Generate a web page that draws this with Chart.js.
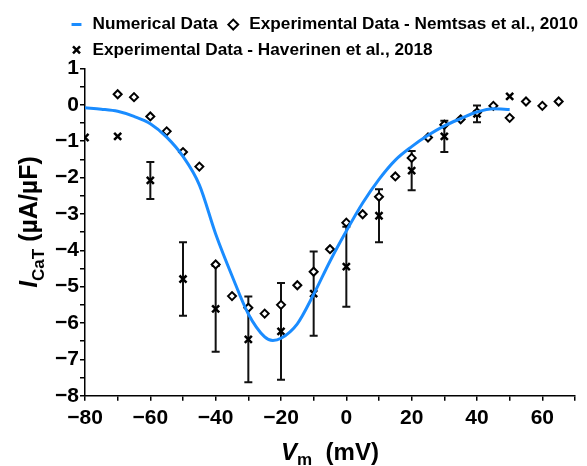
<!DOCTYPE html>
<html>
<head>
<meta charset="utf-8">
<script src="https://cdn.jsdelivr.net/npm/chart.js@4"></script>
<style>
  html, body { margin: 0; padding: 0; background: #fff; }
  #wrap { width: 587px; height: 466px; }
</style>
</head>
<body>
<div id="wrap"><canvas id="ical-chart"></canvas></div>
<script>
// Numerical I-V curve (mV, uA/uF)
const numV = [-80, -75, -70, -65, -60, -55, -50, -45, -40, -35, -30, -25, -22.5, -20, -15, -10, -5, 0, 5, 10, 15, 20, 25, 30, 35, 40, 45, 50];
const numI = [-0.08, -0.12, -0.18, -0.32, -0.52, -0.89, -1.42, -2.2, -3.55, -4.7, -5.75, -6.38, -6.48, -6.42, -6.02, -5.21, -4.3, -3.47, -2.7, -2.05, -1.52, -1.15, -0.84, -0.58, -0.38, -0.2, -0.11, -0.13];

// Nemtsas et al., 2010
const nemV = [-70, -65, -60, -55, -50, -45, -40, -35, -30, -25, -20, -15, -10, -5, 0, 5, 10, 15, 20, 25, 30, 35, 40, 45, 50, 55, 60, 65];
const nemI = [0.29, 0.21, -0.32, -0.73, -1.30, -1.70, -4.39, -5.26, -5.58, -5.74, -5.50, -4.96, -4.59, -3.97, -3.24, -3.01, -2.53, -1.97, -1.46, -0.90, -0.55, -0.40, -0.21, -0.03, -0.36, 0.09, -0.03, 0.09];

// Haverinen et al., 2018 (mean +/- error)
const havV = [-80, -70, -60, -50, -40, -30, -20, -10, 0, 10, 20, 30, 40, 50];
const havI = [-0.90, -0.87, -2.08, -4.79, -5.61, -6.45, -6.23, -5.19, -4.45, -3.05, -1.81, -0.87, -0.25, 0.23];
const havErr = [0, 0, 0.51, 1.01, 1.18, 1.18, 1.33, 1.16, 1.1, 0.73, 0.54, 0.43, 0.23, 0];

const labels = ['Numerical Data', 'Experimental Data - Nemtsas et al., 2010', 'Experimental Data - Haverinen et al., 2018'];

const toXY = (xs, ys) => xs.map((v, i) => ({ x: v, y: ys[i] }));
const minus = v => (v < 0 ? '\u2212' + Math.abs(v) : String(v));

const tickFont = { family: 'Liberation Sans, Arial, sans-serif', size: 21, weight: 'bold' };
const titleFamily = '"Liberation Sans", Arial, sans-serif';

// error bars for the Haverinen points
const errorBars = {
    id: 'errorBars',
    beforeDatasetsDraw(chart) {
        const { ctx, scales: { x, y } } = chart;
        ctx.save();
        ctx.strokeStyle = '#111';
        ctx.lineWidth = 2;
        havV.forEach((v, i) => {
            if (!havErr[i]) return;
            const px = x.getPixelForValue(v);
            const top = y.getPixelForValue(havI[i] + havErr[i]);
            const bot = y.getPixelForValue(havI[i] - havErr[i]);
            ctx.beginPath();
            ctx.moveTo(px, top); ctx.lineTo(px, bot);
            ctx.moveTo(px - 4, top); ctx.lineTo(px + 4, top);
            ctx.moveTo(px - 4, bot); ctx.lineTo(px + 4, bot);
            ctx.stroke();
        });
        ctx.restore();
    }
};

// axis titles with italics and subscripts
function drawRich(ctx, parts, cx, baseY) {
    let total = 0;
    parts.forEach(p => { ctx.font = p.font; p.w = ctx.measureText(p.text).width; total += p.w; });
    let x = cx - total / 2;
    parts.forEach(p => {
        ctx.font = p.font;
        ctx.fillText(p.text, x, baseY + (p.dy || 0));
        x += p.w;
    });
}

const axisTitles = {
    id: 'axisTitles',
    afterDraw(chart) {
        const { ctx, chartArea } = chart;
        ctx.save();
        ctx.fillStyle = '#000';
        ctx.textAlign = 'left';
        ctx.textBaseline = 'alphabetic';
        const cx = (chartArea.left + chartArea.right) / 2;
        drawRich(ctx, [
            { text: 'V', font: 'italic bold 24px ' + titleFamily },
            { text: 'm', font: 'bold 17px ' + titleFamily, dy: 5 },
            { text: '  (mV)', font: 'bold 24px ' + titleFamily }
        ], cx, 460);
        ctx.translate(37, 222);
        ctx.rotate(-Math.PI / 2);
        drawRich(ctx, [
            { text: 'I', font: 'italic bold 25px ' + titleFamily },
            { text: 'CaT', font: 'bold 17px ' + titleFamily, dy: 7 },
            { text: ' (\u00b5A/\u00b5F)', font: 'bold 25px ' + titleFamily }
        ], 0, 0);
        ctx.restore();
    }
};

// start the legend rows near the y axis
const legendLeft = {
    id: 'legendLeft',
    afterLayout(chart) {
        const lg = chart.legend;
        const dx = 61 - lg.left;
        lg.left += dx;
        lg.right += dx;
    }
};

new Chart(document.getElementById('ical-chart'), {
    type: 'scatter',
    data: {
        datasets: [
            {
                type: 'line',
                label: labels[0],
                data: toXY(numV, numI),
                borderColor: '#1a8cff',
                borderWidth: 3,
                pointRadius: 0,
                pointStyle: 'line',
                pointBorderColor: '#1a8cff',
                pointBorderWidth: 3,
                cubicInterpolationMode: 'monotone',
                fill: false
            },
            {
                label: labels[1],
                data: toXY(nemV, nemI),
                pointStyle: 'rectRot',
                pointRadius: 4,
                backgroundColor: '#fff',
                borderColor: '#000',
                borderWidth: 2,
                pointBackgroundColor: '#fff',
                pointBorderColor: '#000',
                pointBorderWidth: 2
            },
            {
                label: labels[2],
                data: toXY(havV, havI),
                pointStyle: 'crossRot',
                pointRadius: 5,
                borderColor: '#000',
                borderWidth: 2.5,
                pointBorderColor: '#000',
                pointBorderWidth: 2.5
            }
        ]
    },
    options: {
        responsive: true,
        maintainAspectRatio: false,
        animation: false,
        layout: { padding: { top: 8, left: 0, right: 12, bottom: 30 } },
        scales: {
            x: {
                type: 'linear',
                min: -80,
                max: 70,
                border: { color: '#000', width: 1.5 },
                grid: { drawOnChartArea: false, color: '#000', lineWidth: 1.5, tickLength: 5 },
                ticks: {
                    stepSize: 10,
                    autoSkip: false,
                    maxRotation: 0,
                    padding: 5,
                    color: '#000',
                    font: tickFont,
                    callback: v => (v % 20 === 0 && v <= 60 ? minus(v) : '')
                }
            },
            y: {
                min: -8,
                max: 1,
                afterFit: scale => { scale.width = 85; },
                border: { color: '#000', width: 1.5 },
                grid: { drawOnChartArea: false, color: '#000', lineWidth: 1.5, tickLength: 5 },
                ticks: {
                    stepSize: 0.5,
                    autoSkip: false,
                    padding: 1,
                    color: '#000',
                    font: tickFont,
                    callback: v => (Number.isInteger(v) ? minus(v) : '')
                }
            }
        },
        plugins: {
            legend: {
                position: 'top',
                align: 'start',
                labels: {
                    usePointStyle: true,
                    boxWidth: 15,
                    boxHeight: 7,
                    padding: 8,
                    color: '#000',
                    font: { family: 'Liberation Sans, Arial, sans-serif', size: 17.2, weight: 'bold' }
                }
            },
            tooltip: { enabled: false }
        }
    },
    plugins: [errorBars, axisTitles, legendLeft]
});
</script>
</body>
</html>
